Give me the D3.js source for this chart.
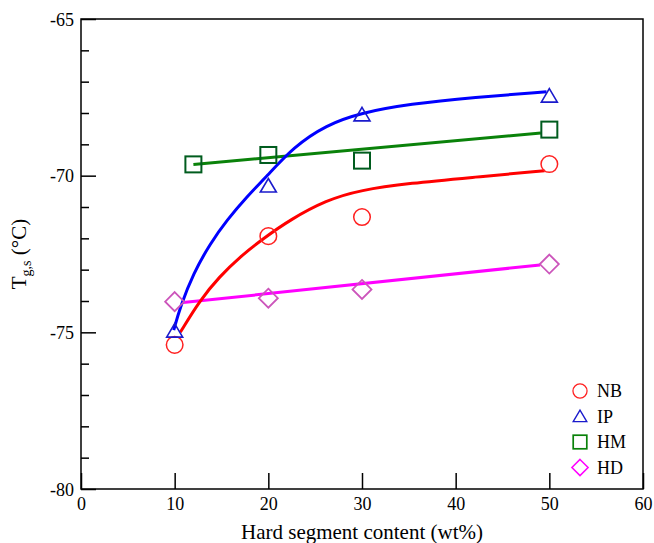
<!DOCTYPE html>
<html>
<head>
<meta charset="utf-8">
<script src="https://cdn.jsdelivr.net/npm/d3@7"></script>
<style>
  body { margin: 0; background: #fff; }
  svg text { font-family: "Liberation Serif", "Times New Roman", serif; }
</style>
</head>
<body>
<svg id="chart" width="654" height="543"></svg>
<script>
// measured points
var nbX = [10, 20, 30, 50], nbY = [-75.4, -71.93, -71.32, -69.63];
var ipX = [10, 20, 30, 50], ipY = [-74.96, -70.33, -68.06, -67.46];
var hmX = [12, 20, 30, 50], hmY = [-69.64, -69.34, -69.52, -68.53];
var hdX = [10, 20, 30, 50], hdY = [-74.02, -73.91, -73.63, -72.82];

// fitted curves
var nbFitX = [10.6, 12.7, 14.8, 17.0, 19.5, 22.3, 26.2, 29.8, 35.1, 42, 49.5];
var nbFitY = [-75.0, -73.97, -73.22, -72.58, -72.0, -71.41, -70.78, -70.46, -70.24, -70.05, -69.84];
var ipFitX = [9.9, 10.6, 12.0, 13.8, 15.6, 17.7, 19.8, 22.7, 26.2, 29.8, 35.1, 42, 49.7];
var ipFitY = [-74.93, -74.18, -73.12, -72.16, -71.41, -70.67, -70.03, -69.08, -68.38, -68.0, -67.71, -67.5, -67.32];
var hmFitX = [12, 49.1], hmFitY = [-69.64, -68.64];
var hdFitX = [10.9, 49.0], hdFitY = [-74.05, -72.85];

var seriesNames = ["NB", "IP", "HM", "HD"];
var xTicks = [0, 10, 20, 30, 40, 50, 60];
var yTicks = [-65, -70, -75, -80];
var yMinor = d3.range(-80, -65, 1).filter(function(v){ return v % 5 != 0; });

var svg = d3.select("#chart");
var L = 81, R = 643, T = 19, B = 489;
var serif = "Liberation Serif, Times New Roman, serif";

var x = d3.scaleLinear().domain([0, 60]).range([L, R]);
var y = d3.scaleLinear().domain([-80, -65]).range([B, T]);

var styles = {
  NB: { marker: "#ff2020", line: "#ff0000", shape: "circle" },
  IP: { marker: "#1a1acc", line: "#0000ff", shape: "triangle" },
  HM: { marker: "#005c1e", line: "#0a820a", shape: "square" },
  HD: { marker: "#cc55bb", line: "#ff00ff", shape: "diamond" }
};

function plain(d) { return String(d); }  // hyphen minus like the original

// axes
var gx = svg.append("g").attr("transform", "translate(0," + B + ")")
  .call(d3.axisBottom(x).tickValues(xTicks).tickSize(-16).tickFormat(plain))
  .attr("font-family", serif);
gx.selectAll("text").attr("font-size", 18).attr("fill", "#000").attr("y", 8);

var gyMinor = svg.append("g").attr("transform", "translate(" + L + ",0)")
  .call(d3.axisLeft(y).tickValues(yMinor).tickSize(-8).tickFormat(""));
var gy = svg.append("g").attr("transform", "translate(" + L + ",0)")
  .call(d3.axisLeft(y).tickValues(yTicks).tickSize(-15).tickFormat(plain))
  .attr("font-family", serif);
gy.selectAll("text").attr("font-size", 18).attr("fill", "#000").attr("x", -7).attr("dy", "0.35em");

svg.selectAll(".domain").remove();
svg.selectAll(".tick line").attr("stroke", "#000").attr("stroke-width", 1.5);

svg.append("rect").attr("x", L).attr("y", T).attr("width", R - L).attr("height", B - T)
  .attr("fill", "none").attr("stroke", "#000").attr("stroke-width", 1.5);

// axis titles
svg.append("text").attr("x", 362).attr("y", 539).attr("text-anchor", "middle")
  .attr("font-size", 21).text("Hard segment content (wt%)");

var yl = svg.append("text").attr("transform", "translate(26," + ((T + B) / 2) + ") rotate(-90)")
  .attr("text-anchor", "middle").attr("font-size", 21);
yl.append("tspan").text("T");
yl.append("tspan").attr("font-size", 14).attr("dy", 5).text("g,s");
yl.append("tspan").attr("dy", -5).text(" (\u00b0C)");

// fitted lines
var line = d3.line().x(function(d){ return x(d[0]); }).y(function(d){ return y(d[1]); });
function drawFit(xs, ys, col, curve) {
  svg.append("path")
    .attr("d", line.curve(curve)(d3.zip(xs, ys)))
    .attr("fill", "none").attr("stroke", col).attr("stroke-width", 3);
}
drawFit(hmFitX, hmFitY, styles.HM.line, d3.curveLinear);
drawFit(hdFitX, hdFitY, styles.HD.line, d3.curveLinear);
drawFit(nbFitX, nbFitY, styles.NB.line, d3.curveBasis);
drawFit(ipFitX, ipFitY, styles.IP.line, d3.curveBasis);

// markers
function marker(g, shape, col) {
  if (shape == "circle") {
    g.append("circle").attr("r", 8.3).attr("fill", "none").attr("stroke", col).attr("stroke-width", 1.5);
  } else if (shape == "triangle") {
    g.append("path").attr("d", "M0,-7.5L8,6L-8,6Z").attr("fill", "none").attr("stroke", col).attr("stroke-width", 1.6);
  } else if (shape == "square") {
    g.append("rect").attr("x", -8).attr("y", -8).attr("width", 16).attr("height", 16)
      .attr("fill", "none").attr("stroke", col).attr("stroke-width", 2);
  } else {
    g.append("path").attr("d", "M0,-9.5L9.5,0L0,9.5L-9.5,0Z").attr("fill", "none").attr("stroke", col).attr("stroke-width", 1.8);
  }
}
var pts = { NB: [nbX, nbY], IP: [ipX, ipY], HM: [hmX, hmY], HD: [hdX, hdY] };
seriesNames.forEach(function(name) {
  var s = styles[name];
  d3.zip(pts[name][0], pts[name][1]).forEach(function(p) {
    var g = svg.append("g").attr("transform", "translate(" + x(p[0]) + "," + y(p[1]) + ")");
    marker(g, s.shape, s.marker);
  });
});

// legend
var legCols = { NB: "#ff2020", IP: "#1a1acc", HM: "#0a820a", HD: "#ff00ff" };
var leg = svg.append("g").attr("transform", "translate(580,391)");
seriesNames.forEach(function(name, i) {
  var g = leg.append("g").attr("transform", "translate(0," + (i * 25.5) + ")");
  var ms = g.append("g").attr("transform", "scale(0.85)");
  marker(ms, styles[name].shape, legCols[name]);
  g.append("text").attr("x", 17).attr("y", 0).attr("dy", "0.35em").attr("font-size", 18).text(name);
});
</script>
</body>
</html>
